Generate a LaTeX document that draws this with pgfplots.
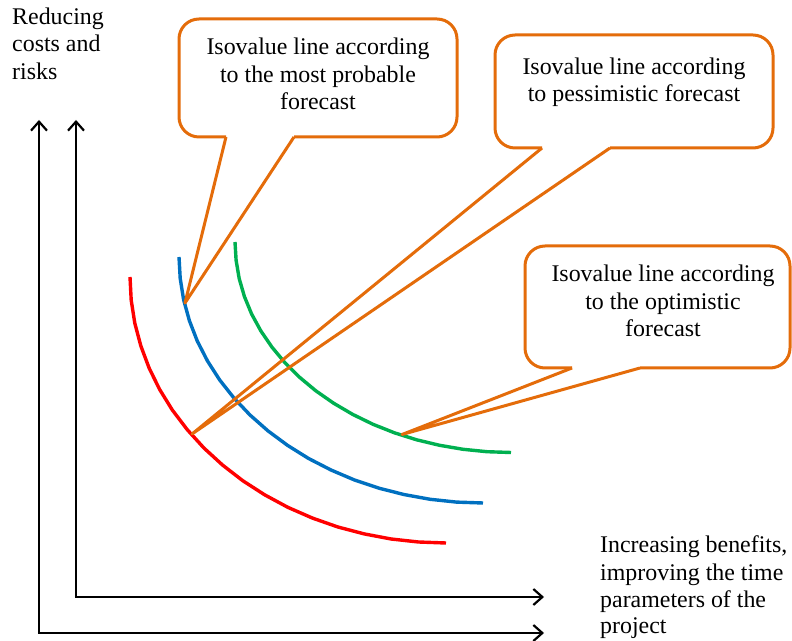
\documentclass[border=0pt]{standalone}
\usepackage{fontspec}
\setmainfont{Liberation Serif}
\usepackage{pgfplots}
\pgfplotsset{compat=1.18}
\usetikzlibrary{arrows.meta}
\definecolor{cred}{RGB}{255,0,0}
\definecolor{cblue}{RGB}{0,112,192}
\definecolor{cgreen}{RGB}{0,176,80}
\definecolor{corange}{RGB}{228,108,10}
\newcommand{\tnr}{\fontsize{23.9}{27.5}\selectfont}
\begin{document}
\begin{tikzpicture}
\begin{axis}[
  scale only axis, width=792pt, height=640pt,
  xmin=0, xmax=792, ymin=0, ymax=640,
  hide axis, clip=false,
]
% axes (two nested coordinate systems)
\draw[line width=2.2pt, -{Straight Barb[length=9pt,width=16pt,line width=2.2pt]}] (axis cs:39,7) -- (axis cs:39,520);
\draw[line width=2.2pt, -{Straight Barb[length=9pt,width=16pt,line width=2.2pt]}] (axis cs:76,43) -- (axis cs:76,520);
\draw[line width=2.2pt, -{Straight Barb[length=9pt,width=16pt,line width=2.2pt]}] (axis cs:37.9,7) -- (axis cs:544,7);
\draw[line width=2.2pt, -{Straight Barb[length=9pt,width=16pt,line width=2.2pt]}] (axis cs:74.9,43) -- (axis cs:544,43);

% isovalue lines
\addplot[cred, line width=3.4pt, no marks] coordinates {
(130,363) (131.2,339.8) (134.8,316.8) (140.8,294.2) (149.1,272.0) (159.6,250.6)
(172.3,230.0) (187.2,210.4) (203.9,192.0) (222.6,174.9) (242.9,159.2) (264.8,145.1)
(288.0,132.6) (312.5,121.9) (337.9,113.0) (364.2,106.1) (391.1,101.0) (418.5,98.0) (446,97.0)};
\addplot[cblue, line width=3.4pt, no marks] coordinates {
(179,383) (180.2,361.6) (183.6,340.3) (189.4,319.3) (197.3,298.9) (207.5,279.0)
(219.7,260.0) (234.0,241.9) (250.1,224.9) (268.0,209.1) (287.6,194.6) (308.6,181.5)
(331.0,170.0) (354.5,160.0) (379.0,151.8) (404.3,145.4) (430.2,140.7) (456.5,137.9) (483,137.0)};
\addplot[cgreen, line width=3.4pt, no marks] coordinates {
(235,398) (236.1,379.7) (239.2,361.4) (244.4,343.5) (251.6,326.0) (260.9,309.0)
(272.0,292.8) (284.9,277.3) (299.6,262.7) (315.8,249.2) (333.6,236.8) (352.7,225.6)
(373.0,215.7) (394.4,207.2) (416.6,200.2) (439.6,194.7) (463.1,190.7) (486.9,188.3) (511,187.5)};

% callout 1
\draw[corange, line width=3pt, rounded corners=20pt] (axis cs:294,503) -- (axis cs:457,503) -- (axis cs:457,621) -- (axis cs:179,621) -- (axis cs:179,503) -- (axis cs:226,503);
\draw[corange, line width=3pt, line join=round] (axis cs:226,503) -- (axis cs:185,337) -- (axis cs:294,503);
% callout 2
\draw[corange, line width=3pt, rounded corners=20pt] (axis cs:610,492) -- (axis cs:773,492) -- (axis cs:773,605) -- (axis cs:495,605) -- (axis cs:495,492) -- (axis cs:542,492);
\draw[corange, line width=3pt, line join=round] (axis cs:542,492) -- (axis cs:192,206) -- (axis cs:610,492);
% callout 3
\draw[corange, line width=3pt, rounded corners=20pt] (axis cs:640,272) -- (axis cs:790,272) -- (axis cs:790,394) -- (axis cs:525,394) -- (axis cs:525,272) -- (axis cs:572,272);
\draw[corange, line width=3pt, line join=round] (axis cs:572,272) -- (axis cs:402,205.5) -- (axis cs:640,272);

% texts
\node[anchor=base, font=\tnr, inner sep=0pt] at (axis cs:318,585) {Isovalue line according};
\node[anchor=base, font=\tnr, inner sep=0pt] at (axis cs:318,557) {to the most probable};
\node[anchor=base, font=\tnr, inner sep=0pt] at (axis cs:318,530) {forecast};

\node[anchor=base, font=\tnr, inner sep=0pt] at (axis cs:634,565) {Isovalue line according};
\node[anchor=base, font=\tnr, inner sep=0pt] at (axis cs:634,538) {to pessimistic forecast};

\node[anchor=base, font=\tnr, inner sep=0pt] at (axis cs:663,358) {Isovalue line according};
\node[anchor=base, font=\tnr, inner sep=0pt] at (axis cs:663,330) {to the optimistic};
\node[anchor=base, font=\tnr, inner sep=0pt] at (axis cs:663,303) {forecast};

\node[anchor=base west, font=\tnr, inner sep=0pt] at (axis cs:12,615) {Reducing};
\node[anchor=base west, font=\tnr, inner sep=0pt] at (axis cs:12,588) {costs and};
\node[anchor=base west, font=\tnr, inner sep=0pt] at (axis cs:12,560) {risks};

\node[anchor=base west, font=\tnr, inner sep=0pt] at (axis cs:600,88) {Increasing benefits,};
\node[anchor=base west, font=\tnr, inner sep=0pt] at (axis cs:600,60) {improving the time};
\node[anchor=base west, font=\tnr, inner sep=0pt] at (axis cs:600,33) {parameters of the};
\node[anchor=base west, font=\tnr, inner sep=0pt] at (axis cs:600,7) {project};
\end{axis}
\pgfresetboundingbox
\path (current axis.south west) rectangle (current axis.north east);
\end{tikzpicture}
\end{document}
